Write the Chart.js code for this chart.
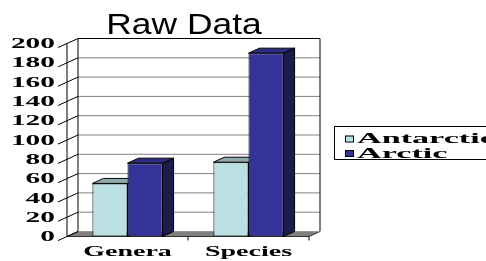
<!DOCTYPE html>
<html>
<head>
<meta charset="utf-8">
<script src="https://cdn.jsdelivr.net/npm/chart.js@4/dist/chart.umd.min.js"></script>
<style>
  html, body { margin: 0; padding: 0; background: #fff; }
  canvas { display: block; }
</style>
</head>
<body>
<canvas id="chart" width="486" height="261"></canvas>
<script>
// data
const categories = ['Genera', 'Species'];
const antarctic = [55, 77];
const arctic = [76, 190];
const seriesNames = ['Antarctic', 'Arctic'];
const yTicks = [0, 20, 40, 60, 80, 100, 120, 140, 160, 180, 200];
const titleText = 'Raw Data';

const frontColors = ['#BBE0E3', '#333399'];
const topColors = ['#8EAAAC', '#2B2B80'];
const sideColors = ['#7F9A9C', '#1C1C4A'];

// depth of the fake 3d box
const DX = 11, DY = 5;
const serif = '"Liberation Serif", "Times New Roman", serif';

function line(ctx, x1, y1, x2, y2) {
  ctx.beginPath();
  ctx.moveTo(x1, y1);
  ctx.lineTo(x2, y2);
  ctx.stroke();
}

// text in the picture is stretched sideways
function wideText(ctx, text, x, y, sx, align) {
  ctx.save();
  ctx.translate(x, y);
  ctx.scale(sx, 1);
  ctx.textAlign = align;
  ctx.fillText(text, 0, 0);
  ctx.restore();
}

const depthPlugin = {
  id: 'depth',
  beforeDatasetsDraw(chart) {
    const ctx = chart.ctx;
    const ys = chart.scales.y;
    const a = chart.chartArea;
    const y0 = ys.getPixelForValue(0);
    const yTop = ys.getPixelForValue(200);
    ctx.save();
    ctx.lineWidth = 1;

    // floor
    ctx.beginPath();
    ctx.moveTo(a.left, y0);
    ctx.lineTo(a.right, y0);
    ctx.lineTo(a.right + DX, y0 - DY);
    ctx.lineTo(a.left + DX, y0 - DY);
    ctx.closePath();
    ctx.fillStyle = '#808080';
    ctx.fill();
    ctx.strokeStyle = '#303030';
    ctx.stroke();

    // back wall + gridlines
    ctx.fillStyle = '#fff';
    ctx.fillRect(a.left + DX, yTop - DY, a.right - a.left, y0 - yTop);
    ctx.strokeStyle = '#808080';
    yTicks.forEach(v => {
      if (v === 0 || v === 200) return;
      const py = ys.getPixelForValue(v) - DY;
      line(ctx, a.left + DX, py, a.right + DX, py);
    });
    ctx.strokeStyle = '#000';
    ctx.beginPath();
    ctx.moveTo(a.left + DX, y0 - DY);
    ctx.lineTo(a.left + DX, yTop - DY);
    ctx.lineTo(a.right + DX, yTop - DY);
    ctx.lineTo(a.right + DX, y0 - DY);
    ctx.stroke();

    // front axis, left wall lines and tick marks
    line(ctx, a.left, y0, a.left, yTop);
    yTicks.forEach(v => {
      const py = ys.getPixelForValue(v);
      line(ctx, a.left - 9, py + 9 * DY / DX, a.left + DX, py - DY);
    });

    // category ticks under the floor
    const step = (a.right - a.left) / categories.length;
    for (let i = 1; i <= categories.length; i++) {
      const px = a.left + step * i;
      line(ctx, px, y0, px, y0 + 4);
    }

    // sides and tops of bars, fronts are drawn by chart.js on top
    chart.data.datasets.forEach((ds, i) => {
      const meta = chart.getDatasetMeta(i);
      meta.data.forEach(bar => {
        const l = bar.x - bar.width / 2;
        const r = bar.x + bar.width / 2;
        ctx.strokeStyle = '#000';
        ctx.beginPath();
        ctx.moveTo(r, bar.y);
        ctx.lineTo(r + DX, bar.y - DY);
        ctx.lineTo(r + DX, bar.base - DY);
        ctx.lineTo(r, bar.base);
        ctx.closePath();
        ctx.fillStyle = sideColors[i];
        ctx.fill();
        ctx.stroke();
        ctx.beginPath();
        ctx.moveTo(l, bar.y);
        ctx.lineTo(l + DX, bar.y - DY);
        ctx.lineTo(r + DX, bar.y - DY);
        ctx.lineTo(r, bar.y);
        ctx.closePath();
        ctx.fillStyle = topColors[i];
        ctx.fill();
        ctx.stroke();
      });
    });
    ctx.restore();
  },
  afterDraw(chart) {
    const ctx = chart.ctx;
    const ys = chart.scales.y;
    const xs = chart.scales.x;
    ctx.save();
    ctx.fillStyle = '#000';

    // title
    ctx.textBaseline = 'alphabetic';
    ctx.font = '30px "Liberation Sans", Arial, sans-serif';
    wideText(ctx, titleText, 184, 34, 1.18, 'center');

    // y labels
    ctx.textBaseline = 'middle';
    ctx.font = 'bold 14px ' + serif;
    yTicks.forEach(v => {
      wideText(ctx, String(v), 55, ys.getPixelForValue(v) + 1, 2.1, 'right');
    });

    // x labels
    ctx.textBaseline = 'alphabetic';
    categories.forEach((c, i) => {
      wideText(ctx, c, xs.getPixelForValue(i), 256, 2.0, 'center');
    });

    // legend
    ctx.strokeStyle = '#000';
    ctx.lineWidth = 1;
    ctx.strokeRect(334.5, 126.5, 200, 33);
    ctx.textBaseline = 'middle';
    chart.data.datasets.forEach((ds, i) => {
      const cy = 138.5 + i * 14.5;
      ctx.fillStyle = ds.backgroundColor;
      ctx.fillRect(345, cy - 3, 8, 6);
      ctx.strokeRect(345.5, cy - 2.5, 8, 6);
      ctx.fillStyle = '#000';
      wideText(ctx, ds.label, 357, cy + 1, 2.44, 'left');
    });
    ctx.restore();
  }
};

new Chart(document.getElementById('chart'), {
  type: 'bar',
  data: {
    labels: categories,
    datasets: [
      { label: seriesNames[0], data: antarctic, backgroundColor: frontColors[0] },
      { label: seriesNames[1], data: arctic, backgroundColor: frontColors[1] }
    ]
  },
  options: {
    responsive: false,
    animation: false,
    layout: { padding: { top: 43.5, right: 177, bottom: 0, left: 0 } },
    datasets: {
      bar: {
        borderColor: '#000',
        borderWidth: 1,
        borderSkipped: false,
        barPercentage: 1,
        categoryPercentage: 0.58
      }
    },
    scales: {
      x: {
        grid: { display: false },
        border: { display: false },
        ticks: { display: false },
        afterFit(scale) { scale.height = 24.5; }
      },
      y: {
        min: 0,
        max: 200,
        ticks: { display: false, stepSize: 20 },
        grid: { display: false },
        border: { display: false },
        afterFit(scale) { scale.width = 67; }
      }
    },
    plugins: {
      legend: { display: false },
      tooltip: { enabled: false },
      title: { display: false }
    }
  },
  plugins: [depthPlugin]
});
</script>
</body>
</html>
